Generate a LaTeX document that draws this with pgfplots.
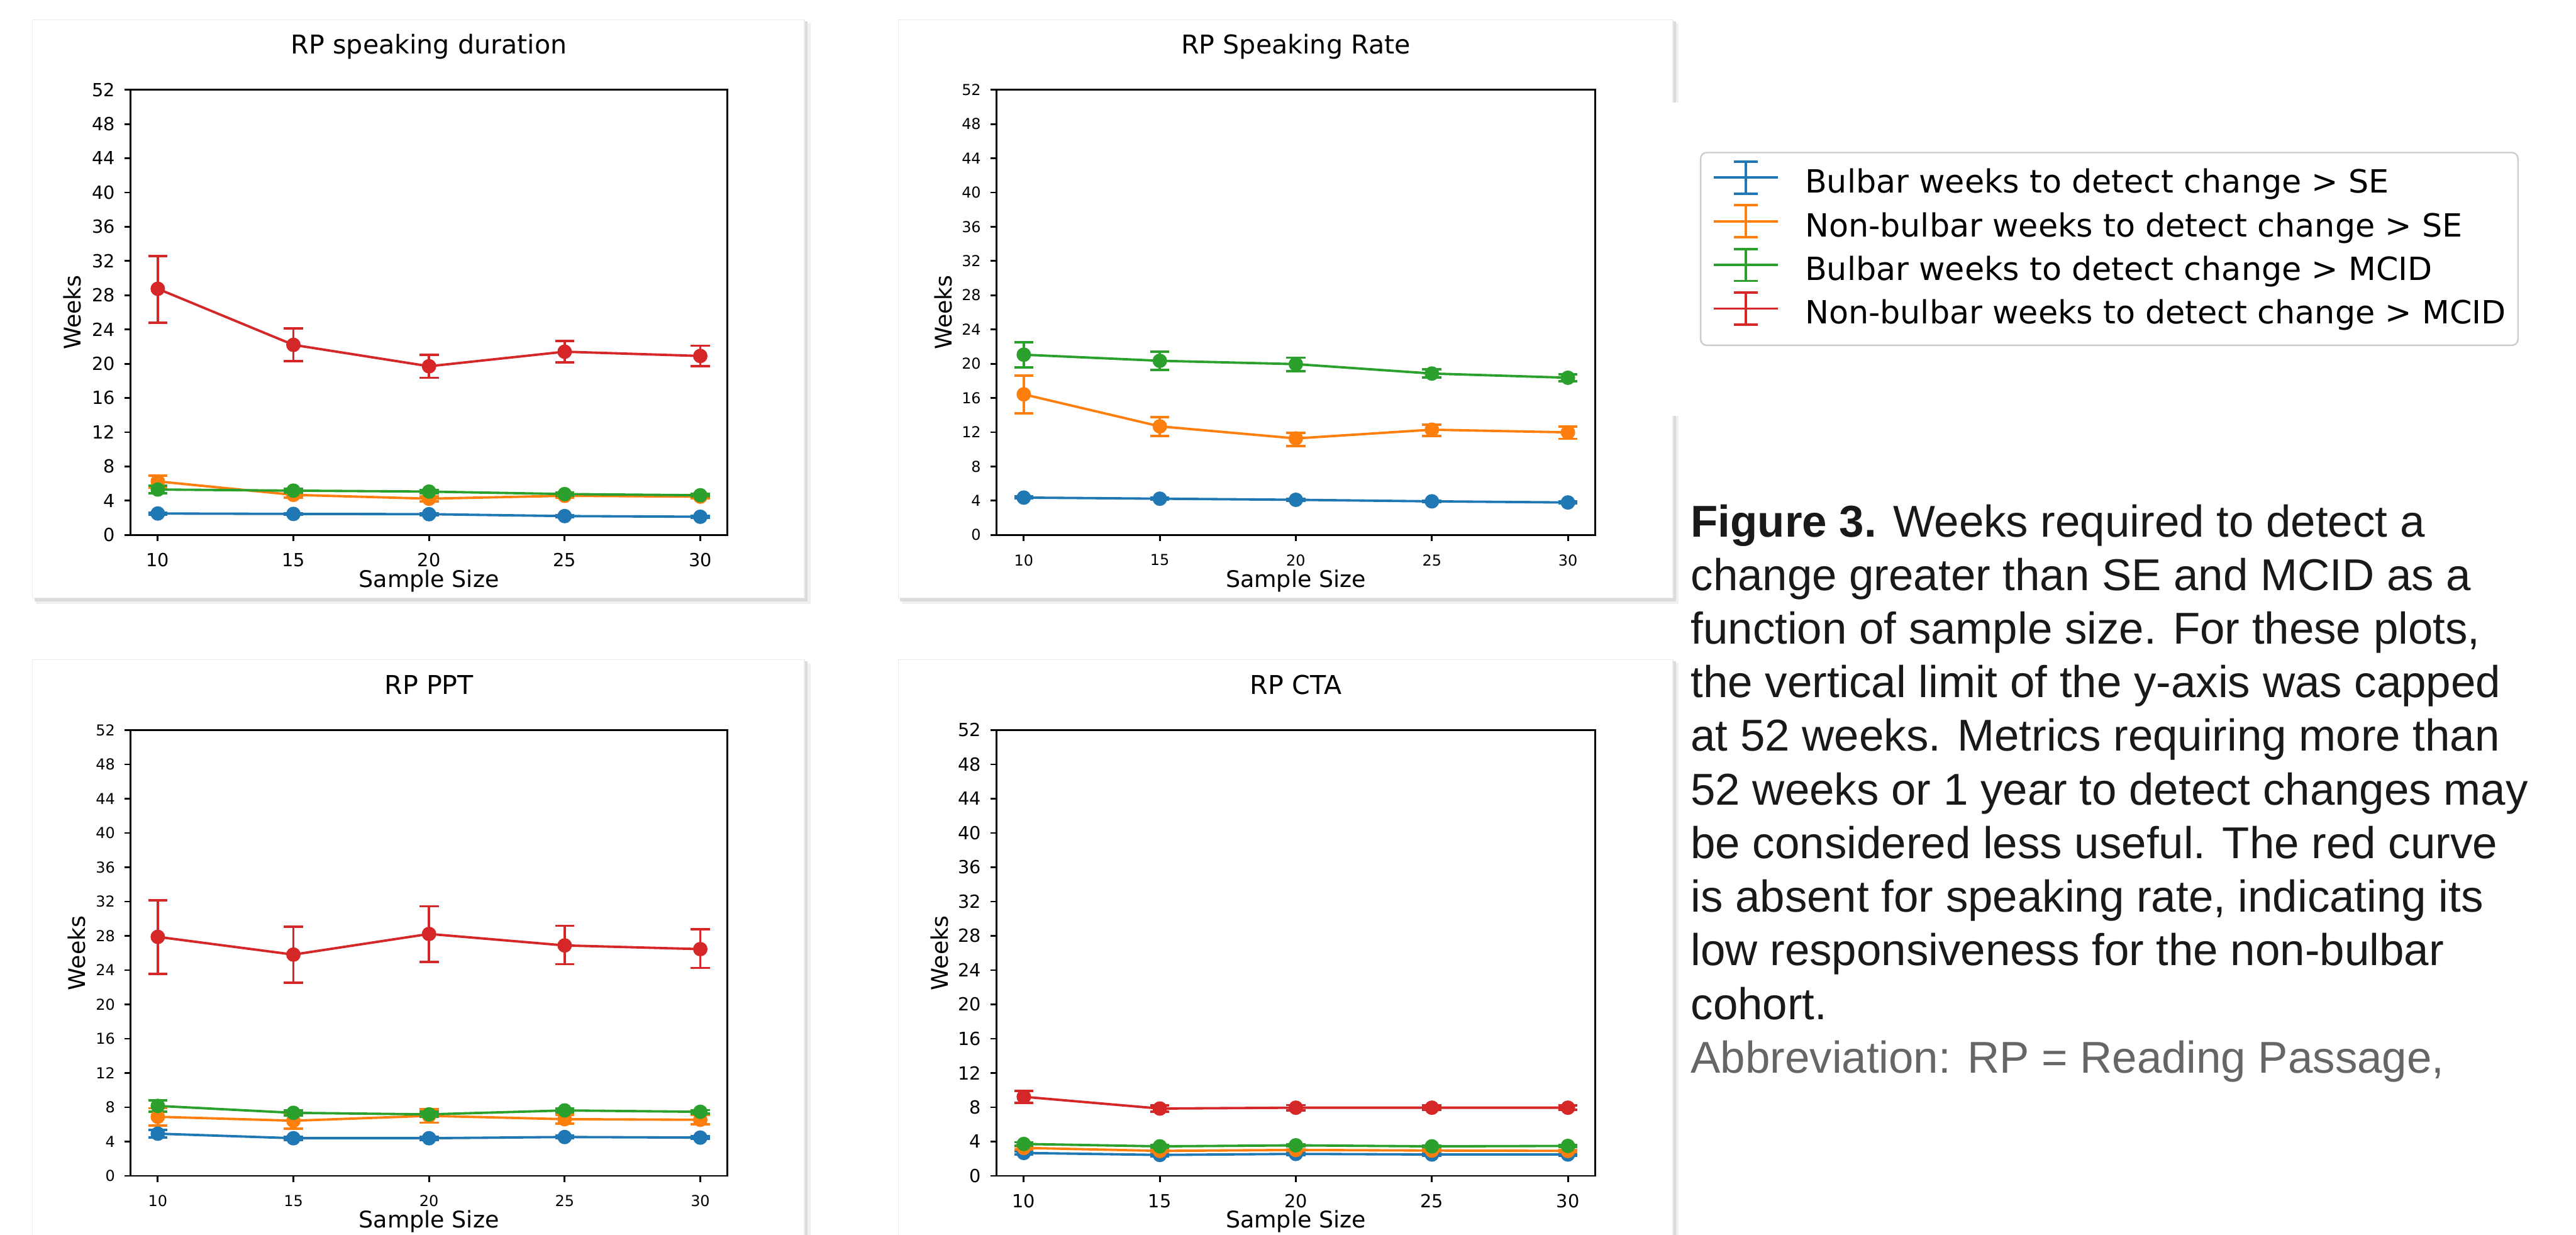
\documentclass[border=0pt]{standalone}
\usepackage{fontspec}
\setmainfont{DejaVu Sans}
\newfontfamily\capfont{Liberation Sans}
\usepackage{pgfplots}
\pgfplotsset{compat=1.18}
\definecolor{c1}{HTML}{1F77B4}
\definecolor{c2}{HTML}{FF7F0E}
\definecolor{c3}{HTML}{2CA02C}
\definecolor{c4}{HTML}{D62728}
\definecolor{capgray}{HTML}{666666}
\pgfplotsset{
  panel/.style={
    scale only axis, anchor=south west,
    xmin=9, xmax=31, ymin=0, ymax=52,
    xtick={10,15,20,25,30}, ytick={0,4,...,52},
    tick pos=left, tick align=outside, major tick length=2pt,
    axis line style={line width=0.6pt},
    every tick/.style={black, line width=0.6pt},
    /pgf/number format/assume math mode=true,
    title style={font=\fontsize{8.6}{10}\selectfont, anchor=base, yshift=5.9pt},
    xlabel={Sample Size}, ylabel={Weeks},
    label style={font=\fontsize{7.6}{9}\selectfont},
    xlabel style={at={(axis description cs:0.5,-0.103)}, anchor=center},
    ylabel style={at={(axis description cs:#1,0.5)}, anchor=center},
    yticklabel style={inner sep=0pt, anchor=east, xshift=-3pt},
    xticklabel style={inner sep=0pt, anchor=center, yshift=-6.4pt},
  },
  ser/.style={color=#1, line width=0.8pt, mark=*, mark size=2.2pt,
    mark options={fill=#1, line width=0.4pt},
    error bars/.cd, y dir=both, y explicit,
    error bar style={line width=0.8pt},
    error mark options={rotate=90, line width=0.8pt, mark size=3.2pt}},
}
\begin{document}
\begin{tikzpicture}
\useasboundingbox (0,0) rectangle (855.6pt,410pt);
\fill[white] (0,0) rectangle (855.6pt,410pt);
% cards
\foreach \xa/\ya/\xb/\yb in {10.8/211.4/267.2/403.4, 298.4/211.4/555.6/403.4, 10.8/-3/267.2/191, 298.4/-3/555.6/191}{
  \fill[black!6] (\xa pt+1.2pt,\ya pt-2pt) rectangle (\xb pt+2pt,\yb pt-1.2pt);
  \fill[black!14] (\xa pt+0.6pt,\ya pt-1pt) rectangle (\xb pt+1pt,\yb pt-0.6pt);
  \filldraw[fill=white, draw=black!8, line width=0.3pt] (\xa pt,\ya pt) rectangle (\xb pt,\yb pt);
}
\fill[white] (548pt,272pt) rectangle (855.6pt,376pt);

% Panel 1
\begin{axis}[panel=-0.098, at={(43.4pt,232.4pt)}, width=198.2pt, height=147.8pt,
  title={RP speaking duration}, tick label style={font=\fontsize{6}{7}\selectfont}]
\addplot[ser=c1] coordinates {(10,2.50) +- (0,0.12) (15,2.45) +- (0,0.1) (20,2.42) +- (0,0.1) (25,2.20) +- (0,0.1) (30,2.12) +- (0,0.1)};
\addplot[ser=c2] coordinates {(10,6.25) +- (0,0.7) (15,4.68) +- (0,0.3) (20,4.23) +- (0,0.3) (25,4.57) +- (0,0.25) (30,4.47) +- (0,0.2)};
\addplot[ser=c3] coordinates {(10,5.30) +- (0,0.45) (15,5.17) +- (0,0.25) (20,5.06) +- (0,0.2) (25,4.77) +- (0,0.2) (30,4.63) +- (0,0.15)};
\addplot[ser=c4] coordinates {(10,28.75) += (0,3.85) -= (0,3.95) (15,22.2) +- (0,1.9) (20,19.7) +- (0,1.35) (25,21.4) +- (0,1.25) (30,20.9) +- (0,1.2)};
\end{axis}

% Panel 2
\begin{axis}[panel=-0.0885, at={(331pt,232.4pt)}, width=198.8pt, height=147.8pt,
  title={RP Speaking Rate}, tick label style={font=\fontsize{5}{6}\selectfont},
  legend image code/.code={%
    \draw[#1, line width=0.8pt] (0pt,3.9pt) -- (21.2pt,3.9pt);
    \draw[#1, line width=0.8pt] (10.6pt,-1.4pt) -- (10.6pt,9.2pt);
    \draw[#1, line width=0.8pt] (6.7pt,-1.4pt) -- (14.5pt,-1.4pt);
    \draw[#1, line width=0.8pt] (6.7pt,9.2pt) -- (14.5pt,9.2pt);
    \path (30pt,3.9pt);},
  legend cell align=left,
  legend style={at={(axis description cs:1.1751,0.8606)}, anchor=north west,
    draw=black!20, rounded corners=2pt, line width=0.5pt,
    font=\fontsize{10.6}{12.7}\selectfont, inner xsep=4pt, inner ysep=2.6pt,
    row sep=-0.8pt, column sep=0pt,
    nodes={inner sep=0pt, text height=6.9pt, text depth=4.5pt}}]
\addlegendimage{c1}\addlegendentry{Bulbar weeks to detect change > SE}
\addlegendimage{c2}\addlegendentry{Non-bulbar weeks to detect change > SE}
\addlegendimage{c3}\addlegendentry{Bulbar weeks to detect change > MCID}
\addlegendimage{c4}\addlegendentry{Non-bulbar weeks to detect change > MCID}
\addplot[forget plot, ser=c1] coordinates {(10,4.36) +- (0,0.12) (15,4.23) +- (0,0.1) (20,4.10) +- (0,0.1) (25,3.92) +- (0,0.1) (30,3.79) +- (0,0.1)};
\addplot[forget plot, ser=c2] coordinates {(10,16.42) += (0,2.16) -= (0,2.2) (15,12.68) += (0,1.1) -= (0,1.14) (20,11.27) += (0,0.66) -= (0,0.88) (25,12.29) += (0,0.61) -= (0,0.71) (30,11.98) += (0,0.7) -= (0,0.75)};
\addplot[forget plot, ser=c3] coordinates {(10,21.05) += (0,1.45) -= (0,1.5) (15,20.34) += (0,1.06) -= (0,1.04) (20,19.95) += (0,0.75) -= (0,0.8) (25,18.85) +- (0,0.48) (30,18.36) += (0,0.4) -= (0,0.44)};
\end{axis}

% Panel 3
\begin{axis}[panel=-0.09, at={(43.4pt,19.6pt)}, width=198.2pt, height=148pt,
  title={RP PPT}, tick label style={font=\fontsize{5}{6}\selectfont}]
\addplot[ser=c1] coordinates {(10,4.92) +- (0,0.45) (15,4.39) +- (0,0.2) (20,4.39) +- (0,0.2) (25,4.53) +- (0,0.15) (30,4.46) +- (0,0.15)};
\addplot[ser=c2] coordinates {(10,6.89) +- (0,1.0) (15,6.43) +- (0,0.9) (20,7.0) +- (0,0.8) (25,6.61) +- (0,0.5) (30,6.54) +- (0,0.55)};
\addplot[ser=c3] coordinates {(10,8.16) +- (0,0.65) (15,7.35) +- (0,0.3) (20,7.17) +- (0,0.3) (25,7.63) +- (0,0.25) (30,7.47) +- (0,0.2)};
\addplot[ser=c4] coordinates {(10,27.88) += (0,4.26) -= (0,4.31) (15,25.81) += (0,3.23) -= (0,3.28) (20,28.22) += (0,3.23) -= (0,3.27) (25,26.88) += (0,2.29) -= (0,2.19) (30,26.45) += (0,2.29) -= (0,2.19)};
\end{axis}

% Panel 4
\begin{axis}[panel=-0.0955, at={(331pt,19.6pt)}, width=198.8pt, height=148pt,
  title={RP CTA}, tick label style={font=\fontsize{6}{7}\selectfont}]
\addplot[ser=c1] coordinates {(10,2.67) +- (0,0.2) (15,2.44) +- (0,0.15) (20,2.56) +- (0,0.15) (25,2.49) +- (0,0.15) (30,2.49) +- (0,0.15)};
\addplot[ser=c2] coordinates {(10,3.26) +- (0,0.2) (15,2.91) +- (0,0.1) (20,3.02) +- (0,0.1) (25,2.95) +- (0,0.1) (30,2.91) +- (0,0.1)};
\addplot[ser=c3] coordinates {(10,3.72) +- (0,0.2) (15,3.44) +- (0,0.15) (20,3.56) +- (0,0.15) (25,3.44) +- (0,0.1) (30,3.49) +- (0,0.1)};
\addplot[ser=c4] coordinates {(10,9.22) +- (0,0.7) (15,7.85) +- (0,0.35) (20,7.95) +- (0,0.3) (25,7.95) +- (0,0.25) (30,7.95) +- (0,0.25)};
\end{axis}

% Caption
\begin{scope}[every node/.style={anchor=base west, inner sep=0pt, font=\capfont\fontsize{14.8}{17}\selectfont, text=black!90}]
\node at (561.4pt,231.8pt) {\textbf{Figure 3.} Weeks required to detect a};
\node at (561.4pt,214.0pt) {change greater than SE and MCID as a};
\node at (561.4pt,196.2pt) {function of sample size. For these plots,};
\node at (561.4pt,178.4pt) {the vertical limit of the y-axis was capped};
\node at (561.4pt,160.6pt) {at 52 weeks. Metrics requiring more than};
\node at (561.4pt,142.8pt) {52 weeks or 1 year to detect changes may};
\node at (561.4pt,125.0pt) {be considered less useful. The red curve};
\node at (561.4pt,107.2pt) {is absent for speaking rate, indicating its};
\node at (561.4pt,89.4pt) {low responsiveness for the non-bulbar};
\node at (561.4pt,71.6pt) {cohort.};
\node[text=capgray] at (561.4pt,53.8pt) {Abbreviation: RP = Reading Passage,};
\end{scope}
\end{tikzpicture}
\end{document}
